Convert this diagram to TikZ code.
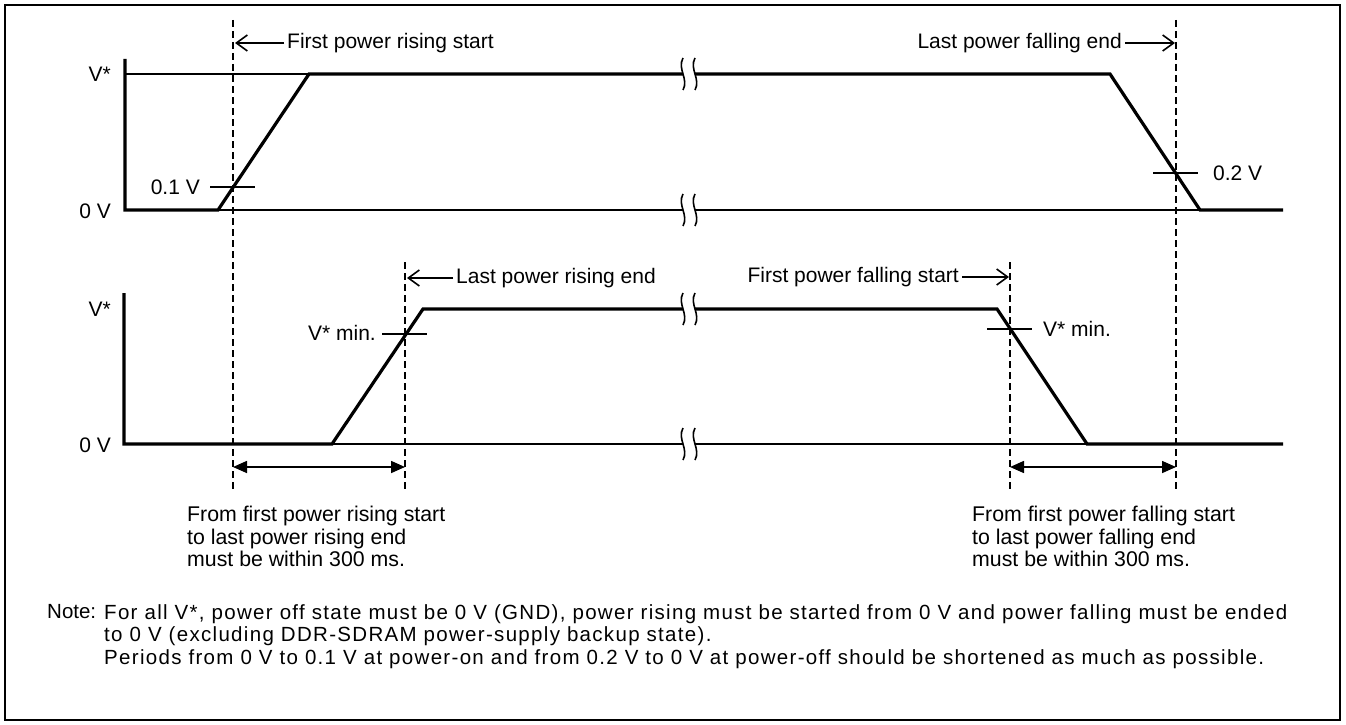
\documentclass[tikz,border=0pt]{standalone}
\usepackage{fontspec}
\setmainfont{Liberation Sans}
\usetikzlibrary{arrows.meta}

% break mark on a level line: centre x, level y
\newcommand\levelbreak[2]{%
  \fill[white] (#1-7,#2-16) .. controls (#1-13,#2-5) and (#1-1,#2+5) .. (#1-7,#2+16)
    -- (#1+5,#2+16) .. controls (#1+11,#2+5) and (#1-1,#2-5) .. (#1+5,#2-16) -- cycle;
  \draw[thinline] (#1-7,#2-16) .. controls (#1-13,#2-5) and (#1-1,#2+5) .. (#1-7,#2+16);
  \draw[thinline] (#1+5,#2-16) .. controls (#1-1,#2-5) and (#1+11,#2+5) .. (#1+5,#2+16);
}

\begin{document}
\begin{tikzpicture}[x=1pt, y=-1pt,
  wave/.style={line width=3.2pt, line join=miter},
  thinline/.style={line width=1.6pt},
  guide/.style={line width=1.6pt, dash pattern=on 7pt off 4pt},
  lbl/.style={font=\fontsize{21}{23}\selectfont, inner sep=3pt},
  blocktext/.style={font=\fontsize{21.3}{22.5}\selectfont, inner sep=3pt, align=left},
  notehead/.style={font=\fontsize{20.5}{22.5}\selectfont, inner sep=3pt},
  notetext/.style={font=\fontsize{20.5}{22.5}\selectfont\addfontfeature{LetterSpace=6.4}, inner sep=3pt, align=left},
  ptr/.style={line width=1.6pt, -{Straight Barb[length=11pt,width=16pt]}},
  dim/.style={line width=1.6pt, {Triangle[length=14pt,width=12pt]}-{Triangle[length=14pt,width=12pt]}}]
\useasboundingbox (0,0) rectangle (1346,725);
\draw[line width=2.8pt] (5,5) rectangle (1340,720);

% guide lines
\draw[guide] (233,20) -- (233,490);
\draw[guide] (1176,20) -- (1176,490);
\draw[guide] (405,262) -- (405,490);
\draw[guide] (1010,262) -- (1010,490);

% upper chart
\draw[thinline] (125,74) -- (309,74);
\draw[thinline] (218,210) -- (1200,210);
\draw[wave] (125,59) -- (125,210) -- (218,210) -- (309,74) -- (1110,74) -- (1200,210) -- (1283,210);
\levelbreak{690}{74}
\levelbreak{690}{210}
\draw[thinline] (210,187) -- (255,187);
\draw[thinline] (1153,173) -- (1198,173);
\node[lbl, anchor=east] (vsetA) at (114,74) {V*};
\node[lbl, anchor=east] (zeroA) at (114,211) {0 V};
\node[lbl, anchor=east] (lowA) at (203,187) {0.1 V};
\node[lbl, anchor=west] (lowB) at (1210,173) {0.2 V};
\node[lbl, anchor=west] (riseStart) at (284,43) {First power rising start};
\node[lbl, anchor=east] (fallEnd) at (1125,43) {Last power falling end};
\coordinate (riseStartPt) at (235,43);
\coordinate (fallEndPt) at (1175,43);
\draw[ptr] (riseStart) -- (riseStartPt);
\draw[ptr] (fallEnd) -- (fallEndPt);

% lower chart
\draw[thinline] (332,444) -- (1087,444);
\draw[wave] (124,293) -- (124,444) -- (332,444) -- (423,309) -- (997,309) -- (1087,444) -- (1283,444);
\levelbreak{690}{309}
\levelbreak{690}{444}
\draw[thinline] (382,334) -- (427,334);
\draw[thinline] (987,329) -- (1032,329);
\node[lbl, anchor=east] (vsetB) at (114,309) {V*};
\node[lbl, anchor=east] (zeroB) at (114,445) {0 V};
\node[lbl, anchor=east] (minA) at (379,333) {V* min.};
\node[lbl, anchor=west] (minB) at (1040,329) {V* min.};
\node[lbl, anchor=west] (riseEnd) at (453,278) {Last power rising end};
\node[lbl, anchor=east] (fallStart) at (962,277) {First power falling start};
\coordinate (riseEndPt) at (407,278);
\coordinate (fallStartPt) at (1009,277);
\draw[ptr] (riseEnd) -- (riseEndPt);
\draw[ptr] (fallStart) -- (fallStartPt);

% 300 ms spans
\coordinate (onA) at (233,467);
\coordinate (onB) at (405,467);
\coordinate (offA) at (1010,467);
\coordinate (offB) at (1176,467);
\draw[dim] (onA) -- (onB);
\draw[dim] (offA) -- (offB);
\node[blocktext, anchor=north west] (onText) at (184,503)
  {From first power rising start\\to last power rising end\\must be within 300 ms.};
\node[blocktext, anchor=north west] (offText) at (969,503)
  {From first power falling start\\to last power falling end\\must be within 300 ms.};

% note
\node[notehead, anchor=north west] (noteHead) at (44,601) {Note:};
\node[notetext, anchor=north west] (noteText) at (101,601)
  {For all V*, power off state must be 0 V (GND), power rising must be started from 0 V and power falling must be ended\\
   to 0 V (excluding DDR-SDRAM power-supply backup state).\\
   Periods from 0 V to 0.1 V at power-on and from 0.2 V to 0 V at power-off should be shortened as much as possible.};
\end{tikzpicture}
\end{document}
